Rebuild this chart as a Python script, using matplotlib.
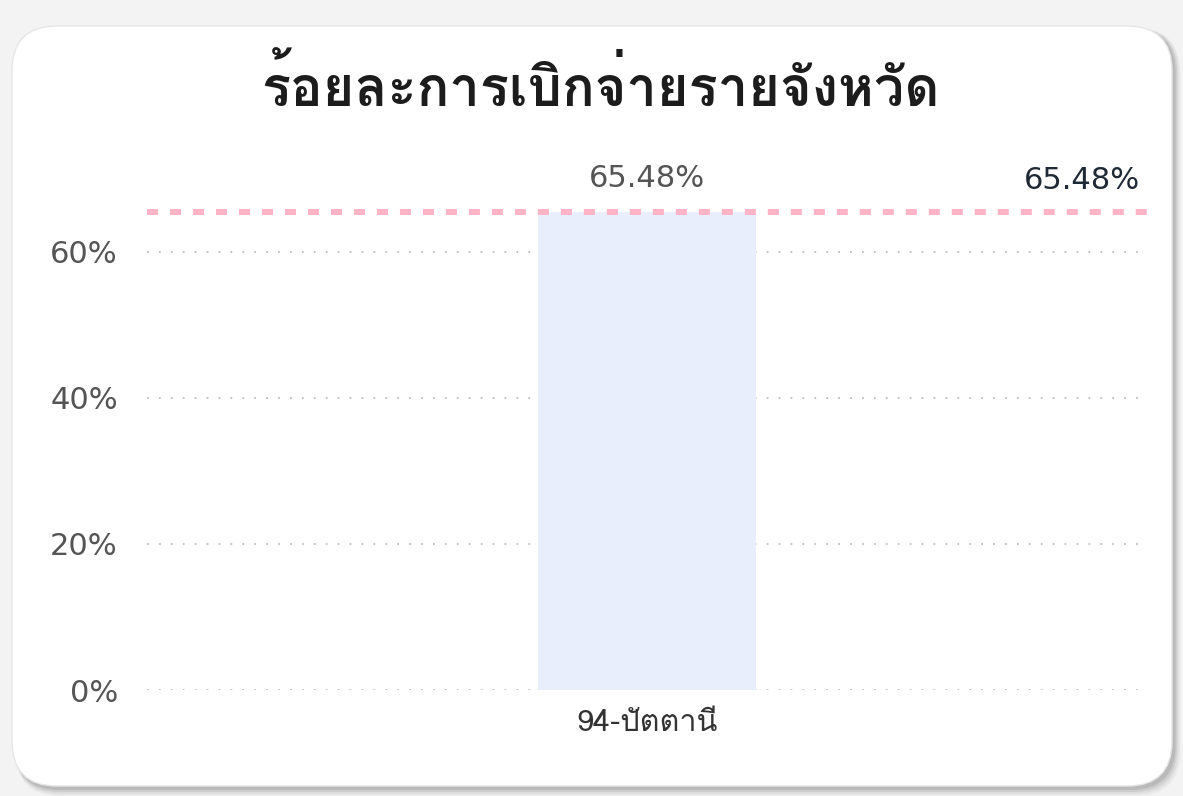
import matplotlib
matplotlib.use("Agg")
import matplotlib.pyplot as plt
from matplotlib import font_manager
from matplotlib.ft2font import FT2Font
from matplotlib.patches import FancyBboxPatch

title = "ร้อยละการเบิกจ่ายรายจังหวัด"
provinces = ["94-ปัตตานี"]
disbursed_pct = [65.48]
target_pct = 65.48
yticks = [0, 20, 40, 60]


# find any installed font that has Thai glyphs
def find_thai_font():
    for f in font_manager.fontManager.ttflist:
        try:
            ft = FT2Font(f.fname)
            if ft.get_char_index(ord("ก")) and ft.get_char_index(ord("ั")):
                return f.name
        except Exception:
            continue
    return "DejaVu Sans"


thai_font = find_thai_font()
fam = [thai_font, "DejaVu Sans"]
plt.rcParams["font.family"] = ["DejaVu Sans", thai_font]

fig = plt.figure(figsize=(11.83, 7.96), dpi=100)
fig.patch.set_facecolor("#f3f3f3")

# card with soft shadow
for i, a in enumerate([0.04, 0.05, 0.07, 0.09]):
    d = 8 - i * 2
    sh = FancyBboxPatch((14 + d * 0.2, 8 - d), 1160 + d * 0.6, 760 + d,
                        boxstyle="round,pad=0,rounding_size=45",
                        transform=None, facecolor="black", alpha=a,
                        edgecolor="none", zorder=0)
    fig.patches.append(sh)
card = FancyBboxPatch((12, 10), 1160, 760, boxstyle="round,pad=0,rounding_size=45",
                      transform=None, facecolor="white", edgecolor="#e6e6e6",
                      linewidth=1, zorder=1)
fig.patches.append(card)

ax = fig.add_axes([147 / 1183, 106 / 796, 1000 / 1183, 0.642])
ax.set_facecolor("none")
ax.set_zorder(5)

x = list(range(len(provinces)))
ax.bar(x, disbursed_pct, width=0.218, color="#e8eefc", zorder=2)
ax.axhline(target_pct, color="#ffb3c6", linewidth=4.3, linestyle=(0, (1.85, 2.0)),
           dash_capstyle="butt", zorder=3)

for xi, v in zip(x, disbursed_pct):
    ax.annotate(f"{v:.2f}%", xy=(xi, v), xytext=(0, 14), textcoords="offset points",
                ha="center", va="bottom", fontsize=22, color="#555555")
ax.annotate(f"{target_pct:.2f}%", xy=(0.993, target_pct), xycoords=ax.get_yaxis_transform(),
            xytext=(0, 12), textcoords="offset points", ha="right", va="bottom",
            fontsize=22, color="#1f2a36")

ax.set_xlim(-0.5, 0.5)
ax.set_ylim(0, 70)
ax.set_yticks(yticks)
ax.set_yticklabels([f"{t}%" for t in yticks])
ax.set_xticks(x)
ax.set_xticklabels(provinces, family=fam)
ax.tick_params(axis="y", length=0, pad=21, labelsize=22, labelcolor="#555555")
ax.tick_params(axis="x", length=0, pad=14, labelsize=22, labelcolor="#333333")
ax.grid(axis="y", color="#bdbdbd", linewidth=1.3, linestyle=(0, (1, 5.6)), zorder=1)
ax.set_axisbelow(True)
for s in ax.spines.values():
    s.set_visible(False)

fig.text(600 / 1183, 1 - 88 / 796, title, ha="center", va="center", fontsize=39,
         fontweight="bold", color="#1c1c1c", family=fam)

fig.savefig("out.png", dpi=100, facecolor=fig.get_facecolor())
